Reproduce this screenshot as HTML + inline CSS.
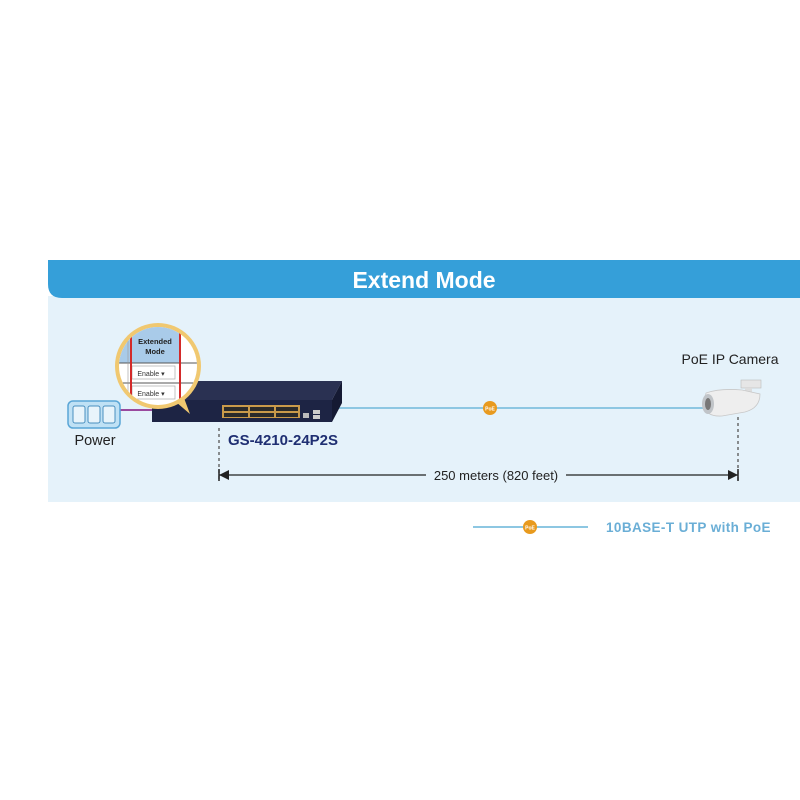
<!DOCTYPE html>
<html><head><meta charset="utf-8"><style>
html,body{margin:0;padding:0;background:#fff;}
svg{display:block;}
text{font-family:"Liberation Sans",sans-serif;}
</style></head><body>
<svg width="800" height="800" viewBox="0 0 800 800" xmlns="http://www.w3.org/2000/svg">
<rect x="48" y="296" width="752" height="206" fill="#e5f2fa"/>
<path d="M48 260 H800 V298 H62 Q48 298 48 284 Z" fill="#359fd9"/>
<text x="424" y="288" font-size="23" font-weight="bold" fill="#fff" text-anchor="middle">Extend Mode</text>

<line x1="330" y1="408" x2="705" y2="408" stroke="#8dc7e2" stroke-width="2"/>
<circle cx="490" cy="408" r="7" fill="#e89a1e"/>
<text x="490" y="410.5" font-size="5" fill="#fff" text-anchor="middle" font-weight="bold">PoE</text>

<line x1="120" y1="410" x2="155" y2="410" stroke="#9a4a9e" stroke-width="2"/>
<rect x="68" y="401" width="52" height="27" rx="5" fill="#bfe1f5" stroke="#5aa6d6" stroke-width="1.5"/>
<rect x="73" y="406" width="12" height="17" rx="2" fill="#e8f4fb" stroke="#4a8fbf"/>
<rect x="88" y="406" width="12" height="17" rx="2" fill="#e8f4fb" stroke="#4a8fbf"/>
<rect x="103" y="406" width="12" height="17" rx="2" fill="#e8f4fb" stroke="#4a8fbf"/>
<text x="95" y="445" font-size="14.5" fill="#222" text-anchor="middle">Power</text>

<polygon points="190,381 342,381 332,400 152,400" fill="#2a3152"/>
<rect x="152" y="400" width="180" height="22" fill="#1d2444"/>
<polygon points="332,400 342,381 342,403 332,422" fill="#151a33"/>
<rect x="222" y="405" width="78" height="13" fill="#c99a4a"/>
<g fill="#2a2a2a">
<rect x="224" y="407" width="24" height="4"/><rect x="224" y="413" width="24" height="4"/>
<rect x="250" y="407" width="24" height="4"/><rect x="250" y="413" width="24" height="4"/>
<rect x="276" y="407" width="22" height="4"/><rect x="276" y="413" width="22" height="4"/>
</g>
<rect x="303" y="413" width="6" height="5" fill="#bbb"/>
<rect x="313" y="410" width="7" height="4" fill="#ccc"/><rect x="313" y="415" width="7" height="4" fill="#ccc"/>
<text x="283" y="445" font-size="15" font-weight="bold" fill="#1f2f72" text-anchor="middle">GS-4210-24P2S</text>

<path d="M176 402 L190 414 L184 398 Z" fill="#f0c870"/>
<circle cx="158" cy="366" r="43" fill="#f0c870"/>
<circle cx="158" cy="366" r="39" fill="#fff"/>
<clipPath id="c"><circle cx="158" cy="366" r="39"/></clipPath>
<g clip-path="url(#c)">
<rect x="110" y="326" width="70" height="37" fill="#a9cbe9"/>
<line x1="110" y1="363" x2="200" y2="363" stroke="#555"/>
<line x1="110" y1="383" x2="200" y2="383" stroke="#555"/>
<rect x="132" y="366" width="43" height="13" fill="#fff" stroke="#aaa" stroke-width="0.7"/>
<rect x="132" y="386" width="43" height="13" fill="#fff" stroke="#aaa" stroke-width="0.7"/>
<text x="151" y="376" font-size="7" fill="#333" text-anchor="middle">Enable ▾</text>
<text x="151" y="396" font-size="7" fill="#333" text-anchor="middle">Enable ▾</text>
<text x="155" y="344" font-size="7.5" font-weight="bold" fill="#222" text-anchor="middle">Extended</text>
<text x="155" y="354" font-size="7.5" font-weight="bold" fill="#222" text-anchor="middle">Mode</text>
<rect x="131" y="326" width="49" height="90" fill="none" stroke="#d32a2a" stroke-width="2"/>
<line x1="128" y1="326" x2="128" y2="410" stroke="#999" stroke-width="0.6"/>
</g>

<text x="730" y="364" font-size="14" fill="#222" text-anchor="middle">PoE IP Camera</text>
<rect x="741" y="380" width="20" height="8" fill="#e6e6e6" stroke="#bbb" stroke-width="0.6"/>
<rect x="745" y="388" width="7" height="10" fill="#ddd"/>
<path d="M706 393 Q720 388 742 390 L760 394 Q760 408 745 412 L722 416 Q706 417 703 405 Z" fill="#eeeeee" stroke="#c8c8c8" stroke-width="0.8"/>
<ellipse cx="708" cy="404" rx="6" ry="10" fill="#c0c4c8"/>
<ellipse cx="708" cy="404" rx="3" ry="6" fill="#777"/>

<line x1="219" y1="428" x2="219" y2="482" stroke="#555" stroke-width="1.3" stroke-dasharray="3,3"/>
<line x1="738" y1="417" x2="738" y2="482" stroke="#555" stroke-width="1.3" stroke-dasharray="3,3"/>
<line x1="219" y1="475" x2="426" y2="475" stroke="#222" stroke-width="1.3"/>
<line x1="566" y1="475" x2="738" y2="475" stroke="#222" stroke-width="1.3"/>
<polygon points="219,475 229,470 229,480" fill="#222"/>
<polygon points="738,475 728,470 728,480" fill="#222"/>
<line x1="219" y1="469" x2="219" y2="481" stroke="#222" stroke-width="1.5"/>
<line x1="738" y1="469" x2="738" y2="481" stroke="#222" stroke-width="1.5"/>
<text x="496" y="480" font-size="13" fill="#222" text-anchor="middle">250 meters (820 feet)</text>

<line x1="473" y1="527" x2="588" y2="527" stroke="#8dc7e2" stroke-width="2"/>
<circle cx="530" cy="527" r="7" fill="#e89a1e"/>
<text x="530" y="529.5" font-size="5" fill="#fff" text-anchor="middle" font-weight="bold">PoE</text>
<text x="606" y="532" font-size="13.5" font-weight="bold" fill="#6aaed6" letter-spacing="0.4" font-family="DejaVu Sans, sans-serif">10BASE-T UTP with PoE</text>
</svg>
</body></html>
